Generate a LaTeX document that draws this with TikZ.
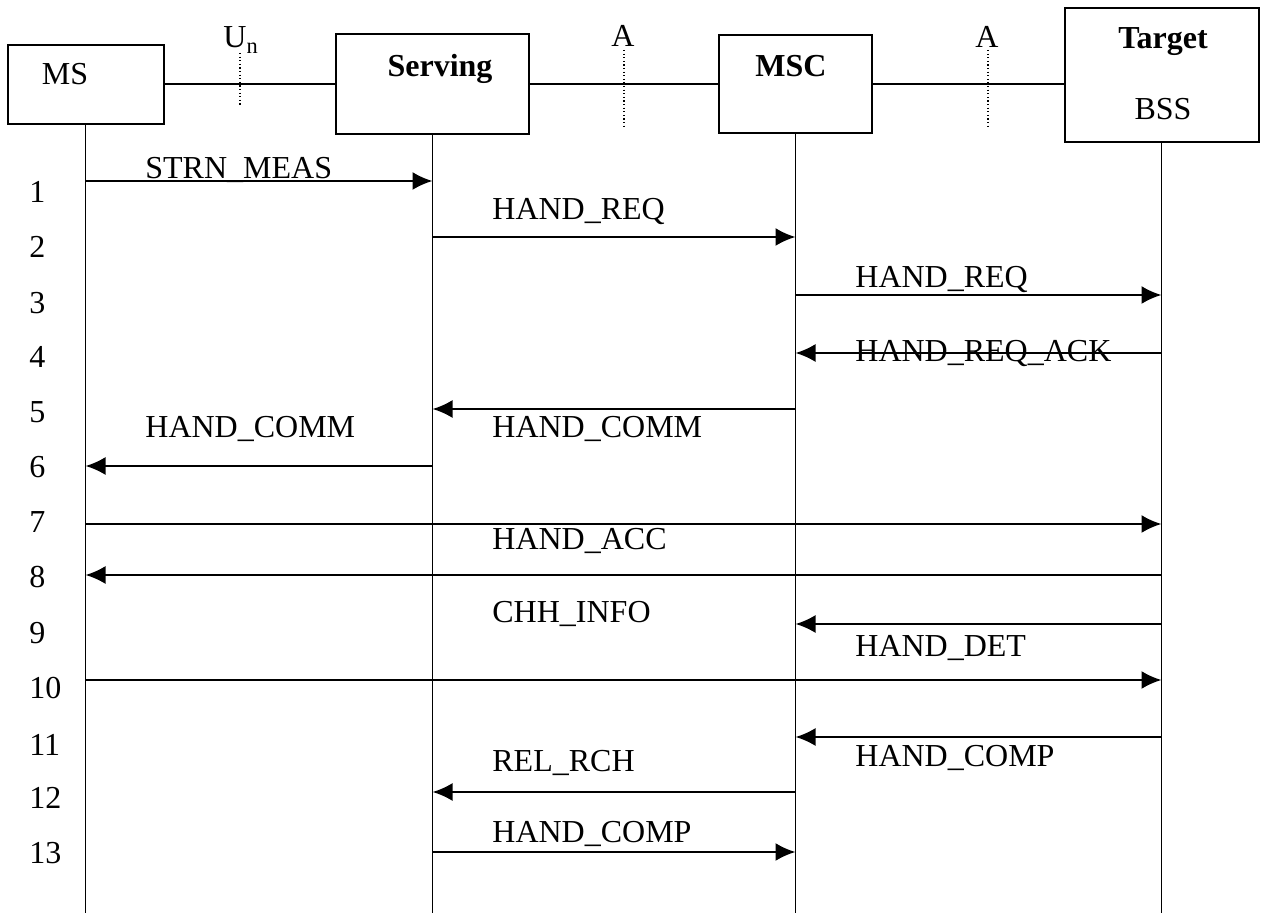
\documentclass[tikz,border=0pt]{standalone}
\usepackage{fontspec}
\setmainfont{Liberation Serif}
\usetikzlibrary{arrows.meta}
\begin{document}
\begin{tikzpicture}[x=0.5pt,y=-0.5pt]
\tikzset{
  box/.style={draw,line width=1pt,inner sep=0pt},
  life/.style={line width=0.75pt},
  link/.style={line width=1pt},
  msg/.style={line width=1.1pt,-{Latex[length=10pt,width=9pt]}},
  iface/.style={line width=0.6pt,dash pattern=on 0.6pt off 1.2pt},
  lbl/.style={anchor=base west,inner sep=0pt,font=\fontsize{16}{19}\selectfont},
  hdr/.style={anchor=base,inner sep=0pt,font=\fontsize{16}{19}\selectfont},
  hdrb/.style={anchor=base,inner sep=0pt,font=\fontsize{16}{19}\selectfont\bfseries}
}
\useasboundingbox (0,0) rectangle (1264,913);
% boxes
\node[box,minimum width=78pt,minimum height=39.5pt] (ms) at (85.5,84.5) {};
\node[box,minimum width=96.5pt,minimum height=50pt] (sv) at (432.5,84) {};
\node[box,minimum width=76.5pt,minimum height=49pt] (msc) at (795.5,84) {};
\node[box,minimum width=97pt,minimum height=67pt] (tg) at (1161.5,75) {};
% box texts
\node[hdr] (tms) at (65,85) {MS};
\node[hdrb] (tsv) at (440,77) {Serving};
\node[hdrb] (tmsc) at (791,77) {MSC};
\node[hdrb] (ttg) at (1163,48.5) {Target};
\node[hdr] (tbss) at (1163,120) {BSS};
% links between boxes
\draw[link] (ms.east) -- (ms.east -| sv.west);
\draw[link] (sv.east) -- (msc.west);
\draw[link] (msc.east) -- (msc.east -| tg.west);
% interfaces
\coordinate (u1) at (240,53); \coordinate (u2) at (240,106);
\coordinate (a1) at (624,50); \coordinate (a2) at (624,126);
\coordinate (b1) at (988,50); \coordinate (b2) at (988,127);
\draw[iface] (u1) -- (u2);
\draw[iface] (a1) -- (a2);
\draw[iface] (b1) -- (b2);
\node[lbl] (lu) at (223,48) {U\textsubscript{n}};
\node[hdr] (la) at (623,47) {A};
\node[hdr] (lb) at (987,48) {A};
% lifelines
\coordinate (msB) at (85.5,913);
\coordinate (svB) at (432.5,913);
\coordinate (mscB) at (795.5,913);
\coordinate (tgB) at (1161.5,913);
\draw[life] (ms.south) -- (msB);
\draw[life] (sv.south) -- (svB);
\draw[life] (msc.south) -- (mscB);
\draw[life] (tg.south) -- (tgB);
% message points
\foreach \n/\y in {1/181,2/237,3/295,4/353,5/409,6/466,7/524,8/575,9/624,10/680,11/737,12/792,13/852}{
  \coordinate (ms-\n) at (85.5,\y);
  \coordinate (sv-\n) at (432.5,\y);
  \coordinate (msc-\n) at (795.5,\y);
  \coordinate (tg-\n) at (1161.5,\y);
}
% messages
\draw[msg] (ms-1) -- (sv-1);
\draw[msg] (sv-2) -- (msc-2);
\draw[msg] (msc-3) -- (tg-3);
\draw[msg] (tg-4) -- (msc-4);
\draw[msg] (msc-5) -- (sv-5);
\draw[msg] (sv-6) -- (ms-6);
\draw[msg] (ms-7) -- (tg-7);
\draw[msg] (tg-8) -- (ms-8);
\draw[msg] (tg-9) -- (msc-9);
\draw[msg] (ms-10) -- (tg-10);
\draw[msg] (tg-11) -- (msc-11);
\draw[msg] (msc-12) -- (sv-12);
\draw[msg] (sv-13) -- (msc-13);
% message labels
\node[lbl] (m1) at (145,179) {STRN\_MEAS};
\node[lbl] (m2) at (492,220) {HAND\_REQ};
\node[lbl] (m3) at (855,288) {HAND\_REQ};
\node[lbl] (m4) at (855,362) {HAND\_REQ\_ACK};
\node[lbl] (m5) at (492,438) {HAND\_COMM};
\node[lbl] (m6) at (145,438) {HAND\_COMM};
\node[lbl] (m7) at (492,550) {HAND\_ACC};
\node[lbl] (m8) at (492,623) {CHH\_INFO};
\node[lbl] (m9) at (855,657) {HAND\_DET};
\node[lbl] (m10) at (855,767) {HAND\_COMP};
\node[lbl] (m11) at (492,772) {REL\_RCH};
\node[lbl] (m12) at (492,843) {HAND\_COMP};
% step numbers
\foreach \n/\y in {1/192,2/247,3/303,4/357,5/412,6/467,7/522,8/577,9/633,10/688,11/745,12/798,13/853}{
  \node[lbl] (n\n) at (29,\y+10.5) {\n};
}
\end{tikzpicture}
\end{document}
